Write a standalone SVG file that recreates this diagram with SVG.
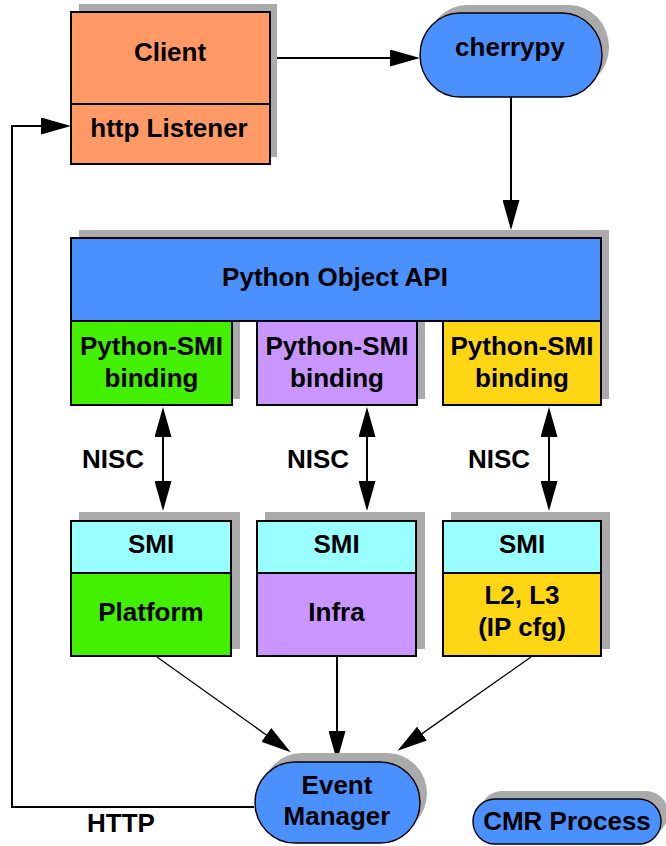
<svg xmlns="http://www.w3.org/2000/svg" width="666" height="846" viewBox="0 0 666 846">
<style>
  .sh { fill: #AAAAAA; }
  .box { stroke: #000; stroke-width: 2; }
  .pill { stroke: #000; stroke-width: 1.4; fill: #4A90FF; }
  .t { font-family: "Liberation Sans", Arial, Helvetica, sans-serif; font-weight: bold; font-size: 26px; fill: #000; text-anchor: middle; }
  .ln { fill: none; stroke: #000; stroke-width: 2; }
  .thin { fill: none; stroke: #000; stroke-width: 1.3; }
  .orange { fill: #FF9966; }
  .blue { fill: #4A90FF; }
  .green { fill: #42F000; }
  .purple { fill: #C996FF; }
  .yellow { fill: #FFD614; }
  .cyan { fill: #99FFFF; }
</style>
<defs>
  <marker id="ah" markerUnits="userSpaceOnUse" markerWidth="30" markerHeight="17" refX="20" refY="8.5" orient="auto">
    <path d="M0,0 L30,8.5 L0,17 Z" fill="#000"/>
  </marker>
  <marker id="ahs" markerUnits="userSpaceOnUse" markerWidth="30" markerHeight="17" refX="10" refY="8.5" orient="auto">
    <path d="M30,0 L0,8.5 L30,17 Z" fill="#000"/>
  </marker>
</defs>
<rect width="666" height="846" fill="#FFFFFF"/>

<g id="connectors">
  <line class="ln" x1="277" y1="58" x2="410" y2="58" marker-end="url(#ah)"/>
  <line class="ln" x1="511" y1="97" x2="511" y2="220" marker-end="url(#ah)"/>
  <polyline class="ln" points="254,807 12,807 12,126 61,126" marker-end="url(#ah)"/>
  <line class="ln" x1="163" y1="417" x2="163" y2="501" marker-start="url(#ahs)" marker-end="url(#ah)"/>
  <line class="ln" x1="367" y1="417" x2="367" y2="501" marker-start="url(#ahs)" marker-end="url(#ah)"/>
  <line class="ln" x1="549" y1="417" x2="549" y2="501" marker-start="url(#ahs)" marker-end="url(#ah)"/>
  <line class="thin" x1="157" y1="657" x2="282.6" y2="746.5" marker-end="url(#ah)"/>
  <line class="ln" x1="337" y1="657" x2="337" y2="751" marker-end="url(#ah)"/>
  <line class="thin" x1="531" y1="657" x2="405.7" y2="745.1" marker-end="url(#ah)"/>
  <text class="t" x="113" y="468">NISC</text>
  <text class="t" x="318" y="468">NISC</text>
  <text class="t" x="499" y="468">NISC</text>
  <text class="t" x="121" y="832">HTTP</text>
</g>

<g id="client">
  <rect class="sh" x="79" y="4" width="198" height="153"/>
  <rect class="box orange" x="71" y="12" width="199" height="152"/>
  <line class="ln" x1="71" y1="104" x2="270" y2="104"/>
  <text class="t" x="170" y="61">Client</text>
  <text class="t" x="169" y="137">http Listener</text>
</g>

<g id="cherrypy">
  <rect class="sh" x="427" y="5" width="182" height="84" rx="40" ry="42"/>
  <rect class="pill" x="420" y="13" width="182" height="84" rx="40" ry="42"/>
  <text class="t" x="510" y="56">cherrypy</text>
</g>

<g id="python-object-api">
  <rect class="sh" x="79" y="230" width="530" height="83"/>
  <rect class="sh" x="79" y="313" width="161" height="86"/>
  <rect class="sh" x="265" y="313" width="160" height="86"/>
  <rect class="sh" x="451" y="313" width="158" height="86"/>
  <rect class="box blue" x="71" y="238" width="530" height="83"/>
  <text class="t" x="335" y="286">Python Object API</text>
</g>

<g id="binding-platform">
  <rect class="box green" x="71" y="321" width="161" height="84"/>
  <text class="t" x="151.5" y="355">Python-SMI</text>
  <text class="t" x="151.5" y="387">binding</text>
</g>
<g id="binding-infra">
  <rect class="box purple" x="257" y="321" width="160" height="84"/>
  <text class="t" x="337" y="355">Python-SMI</text>
  <text class="t" x="337" y="387">binding</text>
</g>
<g id="binding-l2l3">
  <rect class="box yellow" x="443" y="321" width="158" height="84"/>
  <text class="t" x="522" y="355">Python-SMI</text>
  <text class="t" x="522" y="387">binding</text>
</g>

<g id="smi-platform">
  <rect class="sh" x="79" y="512" width="161" height="137"/>
  <rect class="box cyan" x="71" y="521" width="160" height="52"/>
  <rect class="box green" x="71" y="573" width="160" height="83"/>
  <text class="t" x="151" y="553">SMI</text>
  <text class="t" x="151" y="621">Platform</text>
</g>
<g id="smi-infra">
  <rect class="sh" x="265" y="512" width="160" height="137"/>
  <rect class="box cyan" x="257" y="521" width="159" height="52"/>
  <rect class="box purple" x="257" y="573" width="159" height="83"/>
  <text class="t" x="336.5" y="553">SMI</text>
  <text class="t" x="336.5" y="621">Infra</text>
</g>
<g id="smi-l2l3">
  <rect class="sh" x="451" y="512" width="159" height="137"/>
  <rect class="box cyan" x="443" y="521" width="158" height="52"/>
  <rect class="box yellow" x="443" y="573" width="158" height="83"/>
  <text class="t" x="522" y="553">SMI</text>
  <text class="t" x="522" y="604">L2, L3</text>
  <text class="t" x="522" y="636">(IP cfg)</text>
</g>

<g id="event-manager">
  <rect class="sh" x="262" y="753" width="165" height="81" rx="40" ry="40.5"/>
  <rect class="pill" x="255" y="762" width="165" height="81" rx="40" ry="40.5"/>
  <text class="t" x="337" y="794">Event</text>
  <text class="t" x="337" y="825">Manager</text>
</g>

<g id="cmr-process">
  <rect class="sh" x="480" y="791" width="188" height="45" rx="22" ry="22.5"/>
  <rect class="pill" x="473" y="799" width="188" height="45" rx="22" ry="22.5"/>
  <text class="t" x="567" y="830">CMR Process</text>
</g>
</svg>
